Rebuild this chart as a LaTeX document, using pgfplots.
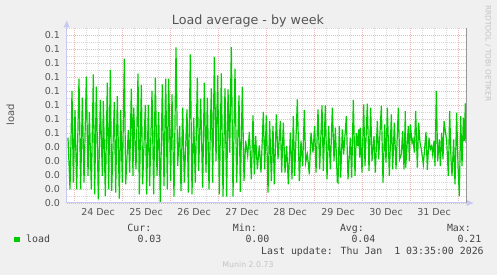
\documentclass[border=0pt]{standalone}
\usepackage{fontspec}
\setmainfont{DejaVu Sans}
\newfontfamily\mono{DejaVu Sans Mono}
\usepackage{pgfplots}
\pgfplotsset{compat=1.18}
\definecolor{bg}{HTML}{F0F0F0}
\definecolor{munin}{HTML}{00CC00}
\definecolor{majgrid}{HTML}{F0B8B8}
\definecolor{mingrid}{HTML}{D8D8D8}
\definecolor{axiscol}{HTML}{C8C8F0}
\definecolor{txt}{HTML}{555555}
\definecolor{legtxt}{HTML}{444444}
\definecolor{light}{HTML}{C4C4C4}
\definecolor{framecol}{HTML}{999999}
\begin{document}
\begin{tikzpicture}[x=1pt,y=1pt]
\fill[bg] (0,0) rectangle (497,275);
\useasboundingbox (0,0) rectangle (497,275);
\begin{axis}[
  at={(66.7pt,72pt)}, anchor=south west,
  scale only axis, width=400pt, height=175pt,
  xmin=-3.65, xmax=196.35, ymin=0, ymax=0.125,
  axis background/.style={fill=white},
  axis line style={draw=none},
  major tick length=0pt, minor tick length=0pt,
  xtick={0,24,48,72,96,120,144,168,192}, xticklabels={},
  minor xtick={6,12,18,30,36,42,54,60,66,78,84,90,102,108,114,126,132,138,150,156,162,174,180,186},
  extra x ticks={12,36,60,84,108,132,156,180},
  extra x tick labels={24 Dec,25 Dec,26 Dec,27 Dec,28 Dec,29 Dec,30 Dec,31 Dec},
  extra x tick style={grid=none, major tick length=0pt},
  ytick={0,0.01,0.02,0.03,0.04,0.05,0.06,0.07,0.08,0.09,0.10,0.11,0.12},
  yticklabels={0.0,0.0,0.0,0.0,0.0,0.1,0.1,0.1,0.1,0.1,0.1,0.1,0.1},
  minor ytick={0.005,0.015,0.025,0.035,0.045,0.055,0.065,0.075,0.085,0.095,0.105,0.115,0.125},
  scaled y ticks=false,
  grid=both,
  major grid style={draw=majgrid, line width=0.7pt, dash pattern=on 1pt off 1pt},
  minor grid style={draw=mingrid, line width=0.7pt, dash pattern=on 1pt off 1pt},
  xticklabel style={font=\fontsize{9.5}{10}\selectfont, text=txt, anchor=north, inner sep=0pt, yshift=-5pt},
  yticklabel style={font=\fontsize{9.5}{10}\selectfont, text=txt, anchor=east, inner sep=0pt, xshift=-6.5pt},
]
\addplot[color=munin, line width=1.2pt, no markers] table {
x y
-3.0 0.0467
-2.0 0.0098
-1.0 0.0800
-0.33 0.0145
0.5 0.0664
1.33 0.0098
2.5 0.0888
3.33 0.0098
4.17 0.0752
5.0 0.0145
6.17 0.0902
7.0 0.0193
7.67 0.0650
8.67 0.0098
9.67 0.0919
10.33 0.0062
11.17 0.0831
12.17 0.0026
13.17 0.0736
14.17 0.0193
14.67 0.0729
15.67 0.0050
16.67 0.0860
17.33 0.0098
18.17 0.0950
18.83 0.0086
20.17 0.0721
20.83 0.0074
21.67 0.0764
22.67 0.0031
23.33 0.0664
24.17 0.0145
25.17 0.1031
25.83 0.0133
27.17 0.0521
27.83 0.0217
28.67 0.0817
29.5 0.0193
29.83 0.0681
31.0 0.0240
32.0 0.0924
32.67 0.0062
33.67 0.0843
34.33 0.0133
35.67 0.0700
36.33 0.0062
37.17 0.0700
37.83 0.0121
39.0 0.0800
39.83 0.0062
40.67 0.0895
41.5 0.0193
42.33 0.0650
43.17 0.0002
44.17 0.0848
45.0 0.0121
45.83 0.0888
46.67 0.0098
47.33 0.0888
48.33 0.0157
49.0 0.0776
50.0 0.0045
51.0 0.1112
51.83 0.0264
52.83 0.0550
53.5 0.0086
54.33 0.0681
55.17 0.0145
56.5 0.0669
57.17 0.0074
58.17 0.1062
59.0 0.0062
59.83 0.0610
60.67 0.0145
61.67 0.0895
62.33 0.0229
63.33 0.0745
64.33 0.0110
65.17 0.0860
66.0 0.0217
66.67 0.0752
67.5 0.0098
68.67 0.0819
69.33 0.0145
70.17 0.1043
71.0 0.0300
71.83 0.0912
72.67 0.0062
73.67 0.0926
74.5 0.0045
75.5 0.0819
76.33 0.0045
77.0 0.0812
77.83 0.0360
78.67 0.1114
79.5 0.0045
80.5 0.0960
81.33 0.0145
82.5 0.0769
83.17 0.0079
84.17 0.0829
85.0 0.0157
85.83 0.0443
86.83 0.0336
87.67 0.0507
88.67 0.0169
89.5 0.0626
90.17 0.0205
90.83 0.0479
91.67 0.0240
92.67 0.0412
93.5 0.0217
94.67 0.0650
95.33 0.0240
96.17 0.0626
97.0 0.0074
97.83 0.0586
98.67 0.0157
99.5 0.0550
100.17 0.0133
101.17 0.0633
102.0 0.0312
103.17 0.0586
103.83 0.0217
104.67 0.0574
105.5 0.0217
106.33 0.0407
107.17 0.0133
108.17 0.0502
109.0 0.0169
109.67 0.0621
110.33 0.0193
111.67 0.0740
112.67 0.0157
113.5 0.0443
114.33 0.0264
115.17 0.0664
115.83 0.0288
116.67 0.0348
117.67 0.0205
118.5 0.0502
119.5 0.0360
120.33 0.0550
121.0 0.0217
122.0 0.0669
122.83 0.0240
124.0 0.0698
124.67 0.0229
125.67 0.0698
126.5 0.0169
127.33 0.0550
128.17 0.0240
129.17 0.0681
130.0 0.0300
130.67 0.0538
131.67 0.0150
132.0 0.0145
132.67 0.0550
133.33 0.0181
134.17 0.0526
134.83 0.0348
136.17 0.0621
137.0 0.0169
138.17 0.0467
138.83 0.0181
139.67 0.0736
140.5 0.0193
141.17 0.0498
141.83 0.0407
142.33 0.0526
142.83 0.0324
143.17 0.0538
144.0 0.0217
144.83 0.0705
145.5 0.0264
146.67 0.0710
147.5 0.0229
148.33 0.0681
149.0 0.0300
150.0 0.0479
150.67 0.0217
151.67 0.0586
152.33 0.0312
153.67 0.0693
154.5 0.0145
155.33 0.0562
156.0 0.0288
156.67 0.0681
157.67 0.0193
158.67 0.0633
159.33 0.0240
160.17 0.0574
161.0 0.0240
162.17 0.0681
162.83 0.0312
163.67 0.0348
164.33 0.0514
165.0 0.0240
165.67 0.0657
165.83 0.0252
166.67 0.0443
167.17 0.0550
167.67 0.0300
168.17 0.0562
169.0 0.0431
169.5 0.0455
170.17 0.0360
170.83 0.0657
171.67 0.0252
172.33 0.0574
173.0 0.0431
173.67 0.0383
174.67 0.0276
176.0 0.0507
176.67 0.0236
177.5 0.0467
178.17 0.0383
178.83 0.0407
179.33 0.0348
180.0 0.0443
180.5 0.0264
181.17 0.0800
181.83 0.0300
182.67 0.0455
183.17 0.0264
183.83 0.0502
184.5 0.0312
185.0 0.0586
185.67 0.0514
186.33 0.0443
187.17 0.0193
187.83 0.0657
188.5 0.0312
189.0 0.0193
189.83 0.0455
190.5 0.0133
191.33 0.0645
192.0 0.0264
192.67 0.0050
193.33 0.0621
194.0 0.0264
194.67 0.0610
195.17 0.0443
195.67 0.0712
196.0 0.0431
};
\end{axis}
% axes, arrows, frame
\draw[axiscol, line width=1pt] (66.7,72) -- (467,72);
\fill[axiscol] (466.5,69) -- (473.5,72) -- (466.5,75) -- cycle;
\draw[axiscol, line width=1pt] (66.7,72) -- (66.7,247.5);
\fill[axiscol] (63.7,247.5) -- (66.7,254.5) -- (69.7,247.5) -- cycle;
\draw[framecol, line width=1.3pt] (466.7,72) -- (466.7,247);
% titles
\node[anchor=base, font=\fontsize{12.7}{14}\selectfont, text=txt, inner sep=0pt] at (248,250.7) {Load average - by week};
\node[rotate=90, font=\fontsize{10}{12}\selectfont, text=txt] at (10.5,160) {load};
\node[rotate=-90, font=\fontsize{7.5}{9}\selectfont, text=light] at (488,221.5) {RRDTOOL / TOBI OETIKER};
% legend
\fill[munin] (14,32.5) rectangle (20,37.5);
\begin{scope}[every node/.style={font=\mono\fontsize{9.9}{11}\selectfont, text=legtxt, inner sep=0pt, anchor=base west}]
\node at (127.2,43.3) {Cur:};
\node at (232.7,43.3) {Min:};
\node at (339.8,43.3) {Avg:};
\node at (446.8,43.3) {Max:};
\node at (26,32) {load};
\node at (137.3,32) {0.03};
\node at (245.3,32) {0.00};
\node at (351.3,32) {0.04};
\node at (457.3,32) {0.21};
\node at (261,20.7) {Last update: Thu Jan\ \ 1 03:35:00 2026};
\end{scope}
\node[anchor=base, font=\fontsize{7.8}{9}\selectfont, text=light, inner sep=0pt] at (248,7.3) {Munin 2.0.73};
\end{tikzpicture}
\end{document}
